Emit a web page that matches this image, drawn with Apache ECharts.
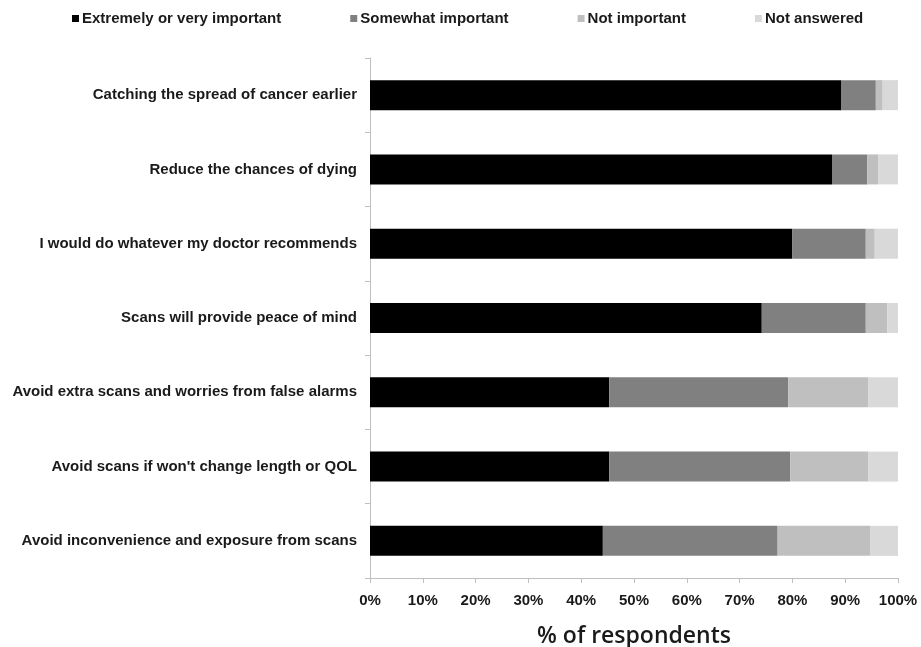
<!DOCTYPE html>
<html>
<head>
<meta charset="utf-8">
<script src="https://cdn.jsdelivr.net/npm/echarts@6/dist/echarts.min.js"></script>
<style>html,body{margin:0;padding:0;background:#fff}#c{width:921px;height:647px}</style>
</head>
<body>
<div id="c"></div>
<script>
const categories = [
  "Catching the spread of cancer earlier",
  "Reduce the chances of dying",
  "I would do whatever my doctor recommends",
  "Scans will provide peace of mind",
  "Avoid extra scans and worries from false alarms",
  "Avoid scans if won't change length or QOL",
  "Avoid inconvenience and exposure from scans"
];
const seriesNames = ["Extremely or very important", "Somewhat important", "Not important", "Not answered"];
const extremely = [89.3, 87.5, 80.0, 74.2, 45.3, 45.3, 44.1];
const somewhat = [6.5, 6.7, 13.9, 19.7, 33.9, 34.3, 33.1];
const notImportant = [1.3, 2.1, 1.7, 4.1, 15.2, 14.8, 17.5];
const notAnswered = [2.9, 3.7, 4.4, 2.0, 5.6, 5.6, 5.3];
const colors = ["#000000", "#808080", "#bfbfbf", "#d9d9d9"];

const values = [extremely, somewhat, notImportant, notAnswered];
const chart = echarts.init(document.getElementById('c'));
const font = "Liberation Sans, Arial, sans-serif";
chart.setOption({
  animation: false,
  color: colors,
  legend: {
    top: 6,
    left: 67,
    icon: 'rect',
    itemWidth: 7,
    itemHeight: 7,
    itemGap: 69,
    textStyle: {fontFamily: font, fontWeight: 'bold', fontSize: 15, color: '#1a1a1a', padding: [0,0,0,-2]},
    data: seriesNames
  },
  grid: {left: 370, right: 23, top: 58, bottom: 69, containLabel: false, outerBoundsMode: 'none'},
  xAxis: {
    type: 'value', min: 0, max: 100, interval: 10,
    axisLabel: {formatter: '{value}%', fontFamily: font, fontWeight: 'bold', fontSize: 15, color: '#1a1a1a', margin: 15},
    axisLine: {show: true, lineStyle: {color: '#bfbfbf'}},
    axisTick: {show: true, length: 5, lineStyle: {color: '#bfbfbf'}},
    splitLine: {show: false},
    name: '% of respondents',
    nameLocation: 'middle',
    nameGap: 47,
    nameTextStyle: {fontFamily: "Open Sans, sans-serif", fontWeight: 600, fontSize: 23, color: '#1a1a1a'}
  },
  yAxis: {
    type: 'category', inverse: true, data: categories,
    axisLabel: {fontFamily: font, fontWeight: 'bold', fontSize: 15, color: '#1a1a1a', margin: 13},
    axisLine: {show: true, lineStyle: {color: '#bfbfbf'}},
    axisTick: {show: true, length: 5, lineStyle: {color: '#bfbfbf'}}
  },
  series: seriesNames.map((n, i) => ({
    name: n, type: 'bar', stack: 'total', barWidth: 30,
    data: values[i],
    itemStyle: {color: colors[i]}
  }))
});
</script>
</body>
</html>
